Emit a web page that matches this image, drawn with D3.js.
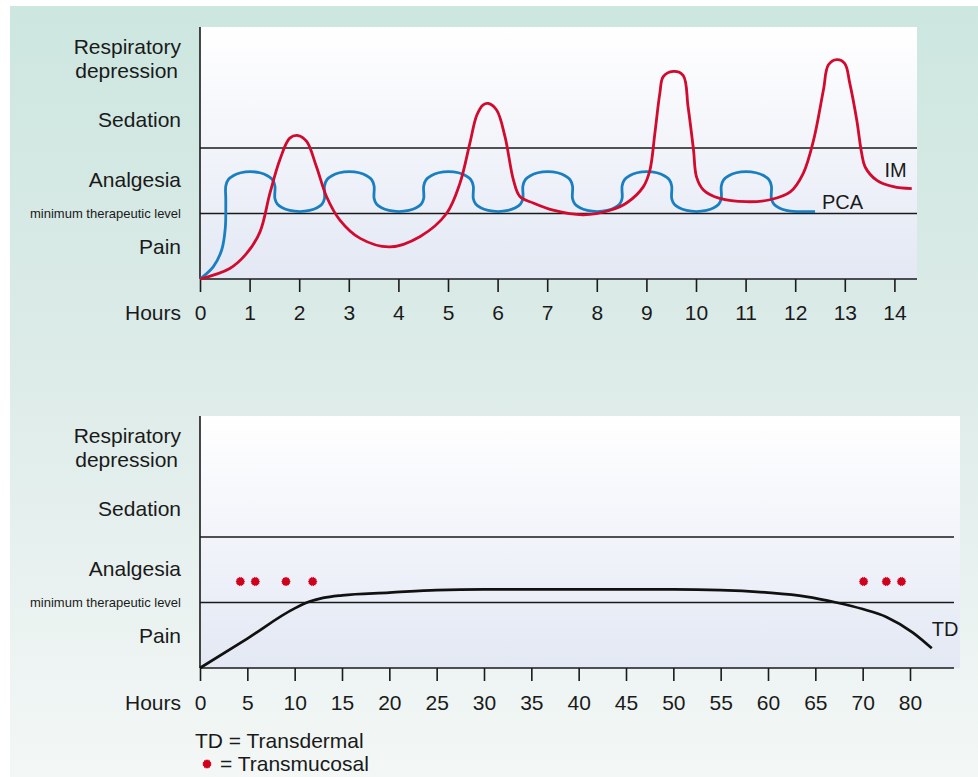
<!DOCTYPE html>
<html>
<head>
<meta charset="utf-8">
<script src="https://cdn.jsdelivr.net/npm/d3@7"></script>
<style>
  html, body { margin: 0; padding: 0; background: #ffffff; }
  svg { display: block; }
  text { font-family: "Liberation Sans", Arial, Helvetica, sans-serif; fill: #1a1a1a; }
</style>
</head>
<body>
<svg id="chart" width="978" height="777"></svg>
<script>
// ---------------- DATA ----------------
// Level scale: 0 = bottom of chart, 1 = minimum therapeutic level, 2 = top of analgesia band
const levelLabels = ["Respiratory depression", "Sedation", "Analgesia", "minimum therapeutic level", "Pain"];
const levelLabelValues = [3.37, 2.43, 1.52, 1.0, 0.49];
const bandLines = [1, 2];

// Top chart (hours 0-14)
const topTicks = [0,1,2,3,4,5,6,7,8,9,10,11,12,13,14];
const imHours = [0,0.6,0.94,1.21,1.41,1.61,1.81,1.98,2.15,2.35,2.55,2.82,3.23,3.83,4.44,4.97,5.24,5.44,5.58,5.71,5.81,5.98,6.15,6.32,6.45,6.72,7.12,7.73,8.27,8.6,8.94,9.07,9.17,9.27,9.34,9.54,9.74,9.84,9.95,10.01,10.15,10.48,11.02,11.49,11.9,12.16,12.37,12.57,12.67,12.84,13.0,13.1,13.24,13.34,13.41,13.64,13.98,14.35];
const imLevel = [0,0.16,0.39,0.72,1.31,1.82,2.15,2.19,2.1,1.71,1.26,0.9,0.62,0.49,0.65,1.0,1.46,2.07,2.5,2.66,2.68,2.58,2.17,1.51,1.26,1.16,1.05,0.98,1.05,1.16,1.41,1.66,2.22,2.83,3.09,3.17,3.11,2.63,1.97,1.56,1.36,1.23,1.18,1.21,1.33,1.61,2.12,2.89,3.27,3.35,3.29,2.99,2.43,1.92,1.71,1.51,1.41,1.38];
const pcaHours = [
  0,0.27,0.44,0.51,0.52,0.52,
  0.57,0.67,0.82,1.015,1.21,1.36,1.46,1.51, 1.51,
  1.56,1.66,1.81,2.01,2.21,2.36,2.46,2.51, 2.51,
  2.56,2.66,2.81,3.01,3.21,3.36,3.46,3.51, 3.51,
  3.56,3.66,3.81,4.01,4.21,4.36,4.46,4.51, 4.51,
  4.56,4.66,4.81,5.01,5.21,5.36,5.46,5.51, 5.51,
  5.56,5.66,5.81,6.01,6.21,6.36,6.46,6.51, 6.51,
  6.56,6.66,6.81,7.01,7.21,7.36,7.46,7.51, 7.51,
  7.56,7.66,7.81,8.01,8.21,8.36,8.46,8.51, 8.51,
  8.56,8.66,8.81,9.01,9.21,9.36,9.46,9.51, 9.51,
  9.56,9.66,9.81,10.01,10.21,10.36,10.46,10.51, 10.51,
  10.56,10.66,10.81,11.01,11.21,11.37,11.47,11.52, 11.52,
  11.57,11.67,11.82,12.02,12.4];
const pcaLevel = [
  0,0.19,0.45,0.78,1.2,1.42,
  1.516,1.577,1.622,1.64,1.622,1.577,1.516,1.42, 1.23,
  1.143,1.087,1.047,1.03,1.047,1.087,1.143,1.23, 1.42,
  1.516,1.577,1.622,1.64,1.622,1.577,1.516,1.42, 1.23,
  1.143,1.087,1.047,1.03,1.047,1.087,1.143,1.23, 1.42,
  1.516,1.577,1.622,1.64,1.622,1.577,1.516,1.42, 1.23,
  1.143,1.087,1.047,1.03,1.047,1.087,1.143,1.23, 1.42,
  1.516,1.577,1.622,1.64,1.622,1.577,1.516,1.42, 1.23,
  1.143,1.087,1.047,1.03,1.047,1.087,1.143,1.23, 1.42,
  1.516,1.577,1.622,1.64,1.622,1.577,1.516,1.42, 1.23,
  1.143,1.087,1.047,1.03,1.047,1.087,1.143,1.23, 1.42,
  1.516,1.577,1.622,1.64,1.622,1.577,1.516,1.42, 1.23,
  1.143,1.087,1.047,1.03,1.03];

// Bottom chart (axis positions; last tick is labelled "80")
const bottomTickPos = [0,5,10,15,20,25,30,35,40,45,50,55,60,65,70,75];
const bottomTickLabels = ["0","5","10","15","20","25","30","35","40","45","50","55","60","65","70","80"];
const tdHours = [0,5,10,11.5,13,15,20,25,30,40,50,55,60,64,67.2,70,72.5,75.3,77.3];
const tdLevel = [0,0.45,0.91,1.01,1.07,1.11,1.15,1.19,1.2,1.2,1.2,1.19,1.15,1.09,1.0,0.9,0.78,0.54,0.3];
const tmHours = [4.26,5.84,9.08,11.9,70.1,72.5,74.1];
const tmLevel = [1.32,1.32,1.32,1.32,1.32,1.32,1.32];

// ---------------- DRAW ----------------
const svg = d3.select("#chart");
const FONT = 21;
const defs = svg.append("defs");

const bgGrad = defs.append("linearGradient").attr("id","bgGrad").attr("x1",0).attr("y1",0).attr("x2",0).attr("y2",1);
bgGrad.append("stop").attr("offset","0%").attr("stop-color","#cde6e0");
bgGrad.append("stop").attr("offset","45%").attr("stop-color","#dcebe8");
bgGrad.append("stop").attr("offset","100%").attr("stop-color","#f3f7f6");

const plotGrad = defs.append("linearGradient").attr("id","plotGrad").attr("x1",0).attr("y1",0).attr("x2",0).attr("y2",1);
plotGrad.append("stop").attr("offset","0%").attr("stop-color","#ffffff");
plotGrad.append("stop").attr("offset","100%").attr("stop-color","#e3e8f4");

svg.append("rect").attr("x",10).attr("y",6).attr("width",968).attr("height",771).attr("fill","url(#bgGrad)");

// spiky dot symbol for transmucosal
const spikyDot = {
  draw(ctx, size) {
    const r = Math.sqrt(size / Math.PI);
    const n = 14;
    for (let i = 0; i < n * 2; i++) {
      const a = (i / (n * 2)) * 2 * Math.PI;
      const rr = i % 2 === 0 ? r * 1.2 : r * 0.95;
      const px = rr * Math.cos(a), py = rr * Math.sin(a);
      if (i === 0) ctx.moveTo(px, py); else ctx.lineTo(px, py);
    }
    ctx.closePath();
  }
};

function panel(cfg) {
  const g = svg.append("g");
  const x = d3.scaleLinear().domain(cfg.xDomain).range([200, cfg.xEnd]);
  const y = d3.scaleLinear().domain([0, 2]).range([cfg.axisY, cfg.axisY - 131]);

  g.append("rect").attr("x",200).attr("y",cfg.plotTop).attr("width",cfg.plotRight-200)
    .attr("height",cfg.axisY-cfg.plotTop).attr("fill","url(#plotGrad)");

  g.selectAll("line.band").data(bandLines).join("line").attr("class","band")
    .attr("x1",200).attr("x2",cfg.lineRight)
    .attr("y1",d=>y(d)).attr("y2",d=>y(d))
    .attr("stroke","#1a1a1a").attr("stroke-width",1.4);

  g.append("line").attr("x1",200).attr("x2",200).attr("y1",cfg.plotTop).attr("y2",cfg.axisY)
    .attr("stroke","#1a1a1a").attr("stroke-width",1.6);
  g.append("line").attr("x1",200).attr("x2",cfg.lineRight).attr("y1",cfg.axisY).attr("y2",cfg.axisY)
    .attr("stroke","#1a1a1a").attr("stroke-width",1.6);

  const axis = d3.axisBottom(x).tickValues(cfg.tickPos).tickFormat((d,i)=>cfg.tickLabels[i])
    .tickSize(13).tickSizeOuter(0).tickPadding(cfg.pad);
  const ag = g.append("g").attr("transform",`translate(0,${cfg.axisY})`).call(axis);
  ag.select(".domain").remove();
  ag.selectAll(".tick line").attr("stroke","#1a1a1a").attr("stroke-width",1.6);
  ag.selectAll(".tick text").attr("fill","#1a1a1a").style("font-size",FONT+"px")
    .style("font-family","'Liberation Sans', Arial, sans-serif");

  g.append("text").attr("x",181).attr("y",cfg.axisY+13+cfg.pad).attr("dy","0.71em")
    .attr("text-anchor","end").style("font-size",FONT+"px").text("Hours");

  levelLabels.forEach((lab, i) => {
    const yy = y(levelLabelValues[i]);
    if (lab === "Respiratory depression") {
      const t = g.append("text").attr("text-anchor","end").style("font-size",FONT+"px");
      t.append("tspan").attr("x",181).attr("y",yy-12).attr("dy","0.36em").text("Respiratory");
      t.append("tspan").attr("x",178).attr("y",yy+12).attr("dy","0.36em").text("depression");
    } else if (lab === "minimum therapeutic level") {
      g.append("text").attr("x",181).attr("y",yy).attr("dy","0.36em").attr("text-anchor","end")
        .style("font-size","13px").text(lab);
    } else {
      g.append("text").attr("x",181).attr("y",yy).attr("dy","0.36em").attr("text-anchor","end")
        .style("font-size",FONT+"px").text(lab);
    }
  });
  return {g, x, y};
}

// ---- Top panel ----
const topPanel = panel({xDomain:[0,14], xEnd:894.4, axisY:279, plotTop:27, plotRight:917, lineRight:917,
  tickPos: topTicks, tickLabels: topTicks.map(String), pad: 13});

const lineCR = d3.line().curve(d3.curveCatmullRom.alpha(0.5));
const pcaPts = pcaHours.map((h,i)=>[topPanel.x(h), topPanel.y(pcaLevel[i])]);
const imPts = imHours.map((h,i)=>[topPanel.x(h), topPanel.y(imLevel[i])]);

topPanel.g.append("path").attr("d", lineCR(pcaPts)).attr("fill","none")
  .attr("stroke","#1a7fc1").attr("stroke-width",2.8).attr("stroke-linejoin","round");
topPanel.g.append("path").attr("d", lineCR(imPts)).attr("fill","none")
  .attr("stroke","#d10a2e").attr("stroke-width",2.8).attr("stroke-linejoin","round");

const imLast = imPts[imPts.length-1];
topPanel.g.append("text").attr("x", imLast[0]-5).attr("y", imLast[1]-12).attr("text-anchor","end")
  .style("font-size","20px").text("IM");
const pcaLast = pcaPts[pcaPts.length-1];
topPanel.g.append("text").attr("x", pcaLast[0]+7).attr("y", pcaLast[1]-2.5)
  .style("font-size","20px").text("PCA");

// ---- Bottom panel ----
const botPanel = panel({xDomain:[0,75], xEnd:910, axisY:668, plotTop:416, plotRight:960, lineRight:954,
  tickPos: bottomTickPos, tickLabels: bottomTickLabels, pad: 14});

const tdPts = tdHours.map((h,i)=>[botPanel.x(h), botPanel.y(tdLevel[i])]);
botPanel.g.append("path").attr("d", d3.line().curve(d3.curveMonotoneX)(tdPts)).attr("fill","none")
  .attr("stroke","#111").attr("stroke-width",2.7);
const tdLast = tdPts[tdPts.length-1];
botPanel.g.append("text").attr("x", tdLast[0]).attr("y", tdLast[1]-12).style("font-size","20px").text("TD");

const sym = d3.symbol().type(spikyDot).size(50);
botPanel.g.selectAll("path.tm").data(tmHours).join("path").attr("class","tm")
  .attr("transform",(d,i)=>`translate(${botPanel.x(d)},${botPanel.y(tmLevel[i])})`)
  .attr("d", sym).attr("fill","#d0021b");

// ---- Legend ----
svg.append("text").attr("x",195).attr("y",748).style("font-size",FONT+"px").text("TD = Transdermal");
svg.append("path").attr("transform","translate(207,764)").attr("d", sym).attr("fill","#d0021b");
svg.append("text").attr("x",220).attr("y",771).style("font-size",FONT+"px").text("= Transmucosal");
</script>
</body>
</html>
